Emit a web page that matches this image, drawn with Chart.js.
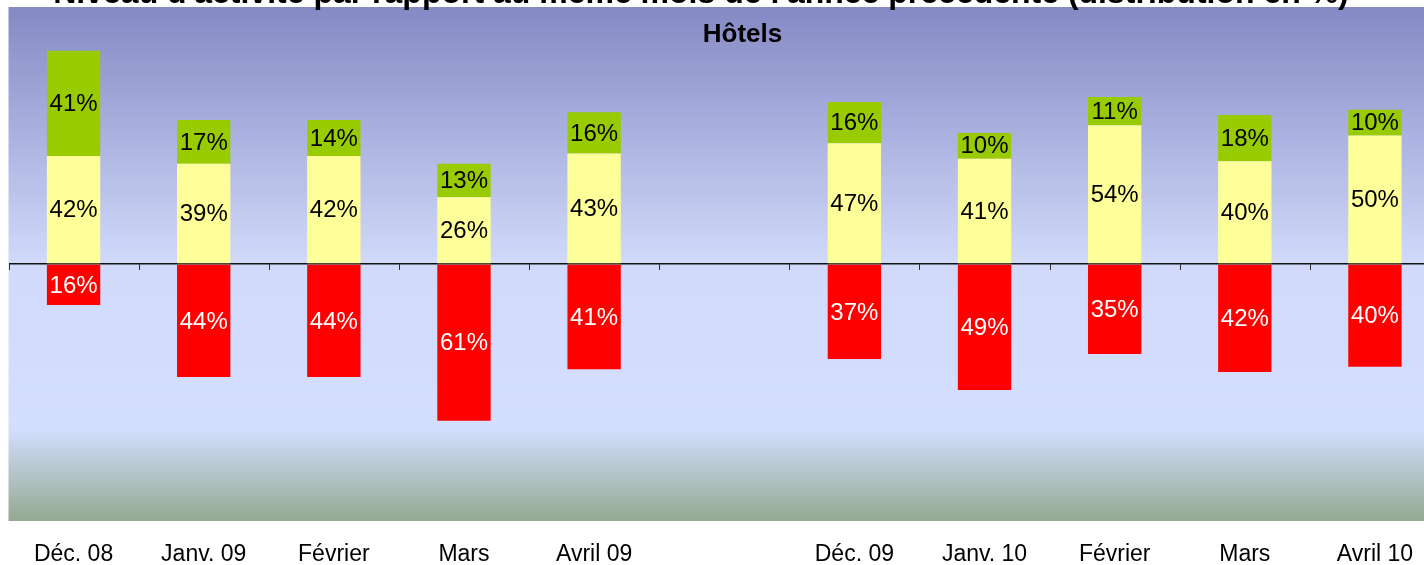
<!DOCTYPE html>
<html><head><meta charset="utf-8">
<script src="https://cdn.jsdelivr.net/npm/chart.js@4.4.1/dist/chart.umd.min.js"></script>
<style>
html,body{margin:0;padding:0;overflow:hidden;background:#fff;width:1424px;height:565px}
#c{display:block}
</style></head><body>
<canvas id="c" width="1440" height="590"></canvas>
<script>
const TITLE = "Niveau d'activité par rapport au même mois de l'année précédente (distribution en %)";
const SUBTITLE = "Hôtels";
const categories = ['Déc. 08','Janv. 09','Février','Mars','Avril 09','','Déc. 09','Janv. 10','Février','Mars','Avril 10'];
const stable = [42,39,42,26,43,null,47,41,54,40,50];
const hausse = [41,17,14,13,16,null,16,10,11,18,10];
const baisse = [-16,-44,-44,-61,-41,null,-37,-49,-35,-42,-40];
const seriesNames = ['Stable','En hausse','En baisse'];
const gridValues = [-11.5, 0, 58.5];

const FONT = '"Liberation Sans", Arial, sans-serif';

let bgGrad = null, bgKey = '';
function getGrad(chart){
  const a = chart.chartArea;
  const key = a.top + '_' + a.bottom;
  if (!bgGrad || bgKey !== key){
    const g = chart.ctx.createLinearGradient(0, a.top, 0, a.bottom);
    g.addColorStop(0, '#8589c4');
    g.addColorStop(0.5, '#d1dafa');
    g.addColorStop(0.82, '#d4deff');
    g.addColorStop(1, '#93a991');
    bgGrad = g; bgKey = key;
  }
  return bgGrad;
}

const bgPlugin = {
  id: 'bg',
  beforeDraw(chart){
    const {ctx, chartArea:a} = chart;
    ctx.save();
    ctx.fillStyle = getGrad(chart);
    ctx.fillRect(a.left, a.top, a.right - a.left, a.bottom - a.top);
    ctx.restore();
  }
};

const decoPlugin = {
  id: 'deco',
  afterDraw(chart){
    const {ctx} = chart;
    const xs = chart.scales.x, ys = chart.scales.y;
    ctx.save();
    const slot = xs.getPixelForValue(1) - xs.getPixelForValue(0);
    const x0 = xs.getPixelForValue(0) - slot/2;
    const y0 = ys.getPixelForValue(0);
    ctx.strokeStyle = '#333';
    ctx.lineWidth = 1;
    for (let i = 0; i <= categories.length; i++){
      const xb = Math.round(x0 + i*slot) + 0.5;
      ctx.beginPath(); ctx.moveTo(xb, y0); ctx.lineTo(xb, y0 + 6); ctx.stroke();
    }
    ctx.font = '24px ' + FONT;
    ctx.textAlign = 'center';
    ctx.textBaseline = 'middle';
    chart.data.datasets.forEach((ds, di) => {
      const meta = chart.getDatasetMeta(di);
      meta.data.forEach((bar, i) => {
        const v = ds.data[i];
        if (v == null) return;
        const p = bar.getProps(['x','y','base'], true);
        ctx.fillStyle = v < 0 ? '#ffffff' : '#000000';
        ctx.fillText(Math.abs(v) + '%', p.x, (p.y + p.base)/2 + 1);
      });
    });
    ctx.fillStyle = '#000';
    ctx.textBaseline = 'alphabetic';
    ctx.font = 'bold 32px ' + FONT;
    ctx.fillText(TITLE, 701, 3);
    ctx.font = 'bold 26px ' + FONT;
    ctx.fillText(SUBTITLE, 742.5, 42);
    ctx.restore();
  }
};

new Chart(document.getElementById('c'), {
  type: 'bar',
  data: {
    labels: categories,
    datasets: [
      {label: seriesNames[0], data: stable, backgroundColor: '#ffff99'},
      {label: seriesNames[1], data: hausse, backgroundColor: '#99cc00'},
      {label: seriesNames[2], data: baisse, backgroundColor: '#ff0000'}
    ]
  },
  options: {
    responsive: false,
    animation: false,
    devicePixelRatio: 1,
    layout: {padding: {top: 7, left: 8.5, right: 0, bottom: 1.4}},
    datasets: {bar: {barPercentage: 0.41, categoryPercentage: 1, borderWidth: 0}},
    plugins: {legend: {display: false}, tooltip: {enabled: false}, title: {display: false}},
    scales: {
      x: {
        stacked: true,
        grid: {display: false, drawTicks: false},
        border: {display: false},
        ticks: {color: '#000', font: {family: FONT, size: 23}, padding: 20, maxRotation: 0, autoSkip: false}
      },
      y: {
        stacked: true,
        min: -100, max: 100,
        z: 1,
        afterBuildTicks: axis => { axis.ticks = gridValues.map(v => ({value: v})); },
        ticks: {display: false},
        border: {display: false},
        grid: {
          drawTicks: false,
          color: c => c.tick && c.tick.value === 0 ? '#111' : getGrad(c.chart),
          lineWidth: c => c.tick && c.tick.value === 0 ? 1.6 : 1.5
        }
      }
    }
  },
  plugins: [bgPlugin, decoPlugin]
});
</script>
</body></html>
